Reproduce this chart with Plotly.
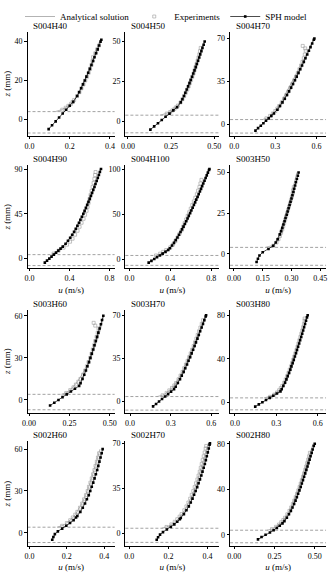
import plotly.graph_objects as go

FONT = "Liberation Serif"

# ---------------- data (u in m/s, z in mm) ----------------
panel_names = ["S004H40", "S004H50", "S004H70", "S004H90", "S004H100", "S003H50",
               "S003H60", "S003H70", "S003H80", "S002H60", "S002H70", "S002H80"]

# S004H40
s004h40_sph_z = [-5, -3, -1, 1, 3, 5, 7, 9, 12, 14, 16, 18, 20, 22, 24, 26, 28, 30, 32, 34, 36, 38, 40, 41]
s004h40_sph_u = [0.095, 0.112, 0.130, 0.147, 0.165, 0.182, 0.200, 0.217, 0.237, 0.247, 0.257, 0.266, 0.275, 0.283,
                 0.292, 0.300, 0.308, 0.316, 0.323, 0.331, 0.339, 0.346, 0.353, 0.357]
s004h40_ana_z = [4, 4.5, 5, 6, 7, 8, 10, 12, 15, 20, 25, 30, 35, 40]
s004h40_ana_u = [0.128, 0.148, 0.160, 0.178, 0.192, 0.204, 0.222, 0.236, 0.253, 0.276, 0.295, 0.312, 0.328, 0.348]
s004h40_exp_z = [5, 6, 7, 8, 9, 10, 12, 14, 16, 18, 20, 22, 24, 26, 28, 30, 32, 34, 36, 38]
s004h40_exp_u = [0.163, 0.180, 0.193, 0.206, 0.214, 0.222, 0.236, 0.248, 0.258, 0.268, 0.277, 0.286, 0.294, 0.301,
                 0.308, 0.313, 0.316, 0.327, 0.336, 0.345]

# S004H50
s004h50_sph_z = [-5, -3, -1, 1, 3, 5, 7, 9, 12, 14, 16, 18, 20, 22, 24, 26, 28, 30, 32, 34, 36, 38, 40, 42, 44, 46, 48, 50]
s004h50_sph_u = [0.130, 0.152, 0.174, 0.196, 0.218, 0.241, 0.263, 0.285, 0.306, 0.316, 0.325, 0.333, 0.341, 0.349,
                 0.357, 0.364, 0.372, 0.379, 0.386, 0.393, 0.399, 0.406, 0.413, 0.419, 0.426, 0.432, 0.439, 0.445]
s004h50_ana_z = [4, 4.5, 5, 6, 7, 8, 10, 12, 15, 20, 25, 30, 35, 40, 45, 50]
s004h50_ana_u = [0.185, 0.205, 0.220, 0.240, 0.256, 0.268, 0.288, 0.303, 0.320, 0.343, 0.362, 0.380, 0.398, 0.413,
                 0.428, 0.443]
s004h50_exp_z = [5, 6, 7, 8, 9, 10, 12, 14, 16, 18, 20, 22, 24, 26, 28, 30, 32, 34, 36, 38, 40, 42, 44, 46]
s004h50_exp_u = [0.225, 0.245, 0.258, 0.270, 0.280, 0.290, 0.305, 0.316, 0.326, 0.335, 0.344, 0.352, 0.359, 0.366,
                 0.373, 0.380, 0.386, 0.392, 0.398, 0.404, 0.409, 0.414, 0.418, 0.422]

# S004H70
s004h70_sph_z = [-5, -3, -1, 1, 3, 5, 7, 9, 12, 15, 18, 21, 24, 27, 30, 33, 36, 39, 42, 45, 48, 51, 54, 57, 60,
                 63, 66, 69, 70]
s004h70_sph_u = [0.155, 0.174, 0.194, 0.213, 0.232, 0.252, 0.271, 0.290, 0.315, 0.334, 0.352, 0.369, 0.385, 0.400,
                 0.415, 0.429, 0.443, 0.456, 0.469, 0.482, 0.495, 0.508, 0.520, 0.533, 0.545, 0.557, 0.569, 0.581,
                 0.585]
s004h70_ana_z = [4, 4.5, 5, 6, 7, 8, 10, 12, 15, 20, 30, 40, 50, 60, 70]
s004h70_ana_u = [0.205, 0.222, 0.234, 0.250, 0.263, 0.273, 0.290, 0.305, 0.325, 0.350, 0.400, 0.450, 0.495, 0.540,
                 0.580]
s004h70_exp_z = [5, 7, 9, 11, 13, 15, 18, 21, 24, 27, 30, 33, 36, 39, 42, 45, 48, 51, 54, 57, 60, 62, 64]
s004h70_exp_u = [0.235, 0.262, 0.282, 0.300, 0.315, 0.328, 0.347, 0.364, 0.380, 0.396, 0.410, 0.424, 0.438, 0.451,
                 0.464, 0.476, 0.488, 0.498, 0.508, 0.515, 0.522, 0.518, 0.500]

# S004H90
s004h90_sph_z = [-4, -2, 0, 2, 4, 6, 8, 10, 12, 15, 18, 21, 24, 27, 30, 33, 36, 39, 42, 45, 48, 51, 54, 57, 60,
                 63, 66, 69, 72, 75, 78, 81, 84, 87, 90]
s004h90_sph_u = [0.153, 0.175, 0.198, 0.220, 0.243, 0.265, 0.288, 0.310, 0.332, 0.360, 0.384, 0.406, 0.426, 0.445,
                 0.462, 0.478, 0.494, 0.508, 0.523, 0.537, 0.550, 0.563, 0.576, 0.589, 0.601, 0.613, 0.625, 0.637,
                 0.649, 0.659, 0.671, 0.682, 0.693, 0.703, 0.714]
s004h90_ana_z = [4, 5, 6, 8, 10, 13, 16, 20, 25, 30, 40, 50, 60, 70, 80, 90]
s004h90_ana_u = [0.220, 0.250, 0.270, 0.300, 0.325, 0.350, 0.380, 0.410, 0.445, 0.475, 0.525, 0.568, 0.605, 0.640,
                 0.675, 0.705]
s004h90_exp_z = [5, 8, 11, 14, 17, 20, 24, 28, 32, 36, 40, 44, 48, 52, 56, 60, 64, 68, 72, 76, 80, 84, 87]
s004h90_exp_u = [0.240, 0.290, 0.340, 0.375, 0.405, 0.430, 0.455, 0.480, 0.500, 0.520, 0.540, 0.555, 0.570, 0.580,
                 0.590, 0.600, 0.610, 0.620, 0.630, 0.640, 0.648, 0.655, 0.660]

# S004H100
s004h100_sph_z = [-4, -2, 0, 2, 4, 6, 8, 10, 12, 15, 18, 21, 24, 27, 30, 33, 36, 39, 42, 45, 48, 51, 54, 57, 60,
                  63, 66, 69, 72, 75, 78, 81, 84, 87, 90, 93, 96, 99, 100]
s004h100_sph_u = [0.188, 0.215, 0.243, 0.270, 0.298, 0.325, 0.353, 0.380, 0.396, 0.417, 0.436, 0.453, 0.470, 0.485,
                  0.500, 0.515, 0.529, 0.542, 0.556, 0.569, 0.581, 0.594, 0.606, 0.619, 0.631, 0.643, 0.654, 0.667,
                  0.678, 0.690, 0.701, 0.712, 0.723, 0.735, 0.746, 0.757, 0.768, 0.779, 0.783]
s004h100_ana_z = [4, 5, 6, 8, 10, 13, 16, 20, 25, 30, 40, 50, 60, 70, 80, 90, 100]
s004h100_ana_u = [0.260, 0.290, 0.310, 0.340, 0.365, 0.395, 0.420, 0.445, 0.470, 0.495, 0.540, 0.585, 0.625, 0.665,
                  0.705, 0.740, 0.775]
s004h100_exp_z = [4, 6, 8, 10, 13, 16, 20, 24, 28, 32, 36, 40, 44, 48, 52, 56, 60, 64, 68, 72, 76, 80, 84, 88]
s004h100_exp_u = [0.260, 0.300, 0.330, 0.360, 0.400, 0.425, 0.450, 0.470, 0.490, 0.510, 0.525, 0.540, 0.555, 0.570,
                  0.585, 0.600, 0.615, 0.630, 0.645, 0.660, 0.672, 0.685, 0.695, 0.705]

# S003H50
s003h50_sph_z = [-5, -3, -1, 1, 3, 5, 7, 9, 12, 14, 16, 18, 20, 22, 24, 26, 28, 30, 32, 34, 36, 38, 40, 42, 44, 46, 48, 50]
s003h50_sph_u = [0.118, 0.125, 0.133, 0.150, 0.180, 0.205, 0.218, 0.228, 0.239, 0.246, 0.252, 0.258, 0.264, 0.269,
                 0.275, 0.280, 0.285, 0.290, 0.295, 0.300, 0.305, 0.310, 0.314, 0.319, 0.323, 0.328, 0.333, 0.337]
s003h50_ana_z = [4, 4.5, 5, 6, 8, 10, 13, 16, 20, 25, 30, 35, 40, 45, 50]
s003h50_ana_u = [0.165, 0.185, 0.197, 0.212, 0.228, 0.238, 0.249, 0.257, 0.266, 0.277, 0.288, 0.298, 0.308, 0.318,
                 0.328]
s003h50_exp_z = [5, 7, 9, 11, 13, 15, 17, 19, 21, 23, 25, 27, 29, 31, 33, 35, 37, 39, 41]
s003h50_exp_u = [0.205, 0.222, 0.232, 0.240, 0.246, 0.252, 0.257, 0.262, 0.267, 0.272, 0.277, 0.282, 0.287, 0.292,
                 0.297, 0.302, 0.306, 0.308, 0.312]

# S003H60
s003h60_sph_z = [-4, -2, 0, 2, 4, 6, 8, 10, 12, 15, 18, 21, 24, 27, 30, 33, 36, 39, 42, 45, 48, 51, 54, 57, 60]
s003h60_sph_u = [0.130, 0.156, 0.182, 0.207, 0.233, 0.259, 0.284, 0.310, 0.319, 0.331, 0.342, 0.352, 0.361, 0.371,
                 0.380, 0.388, 0.397, 0.405, 0.413, 0.421, 0.429, 0.437, 0.445, 0.452, 0.460]
s003h60_ana_z = [4, 4.5, 5, 6, 8, 10, 13, 16, 20, 25, 30, 35, 40, 45, 50, 55, 60]
s003h60_ana_u = [0.200, 0.215, 0.226, 0.242, 0.263, 0.278, 0.300, 0.318, 0.338, 0.360, 0.380, 0.397, 0.413, 0.428,
                 0.442, 0.452, 0.462]
s003h60_exp_z = [5, 7, 9, 11, 13, 15, 18, 21, 24, 27, 30, 33, 36, 39, 42, 45, 48, 51, 53, 55]
s003h60_exp_u = [0.230, 0.255, 0.275, 0.290, 0.305, 0.318, 0.334, 0.347, 0.358, 0.368, 0.378, 0.387, 0.395, 0.403,
                 0.410, 0.418, 0.425, 0.430, 0.410, 0.400]

# S003H70
s003h70_sph_z = [-4, -2, 0, 2, 4, 6, 8, 10, 12, 15, 18, 21, 24, 27, 30, 33, 36, 39, 42, 45, 48, 51, 54, 57, 60,
                 63, 66, 69, 70]
s003h70_sph_u = [0.170, 0.192, 0.214, 0.236, 0.259, 0.281, 0.303, 0.325, 0.337, 0.353, 0.369, 0.382, 0.396, 0.408,
                 0.421, 0.432, 0.444, 0.455, 0.466, 0.477, 0.487, 0.498, 0.508, 0.518, 0.529, 0.539, 0.549, 0.559,
                 0.562]
s003h70_ana_z = [4, 4.5, 5, 6, 8, 10, 13, 16, 20, 25, 30, 40, 50, 60, 70]
s003h70_ana_u = [0.200, 0.225, 0.238, 0.256, 0.282, 0.300, 0.325, 0.345, 0.365, 0.390, 0.410, 0.450, 0.490, 0.525,
                 0.560]
s003h70_exp_z = [5, 7, 9, 11, 13, 15, 18, 21, 24, 27, 30, 33, 36, 39, 42, 45, 48, 51, 54, 57, 60, 63, 66]
s003h70_exp_u = [0.240, 0.270, 0.290, 0.310, 0.327, 0.340, 0.358, 0.373, 0.388, 0.400, 0.413, 0.425, 0.437, 0.448,
                 0.459, 0.470, 0.480, 0.490, 0.500, 0.510, 0.520, 0.530, 0.540]

# S003H80
s003h80_sph_z = [-4, -2, 0, 2, 4, 6, 8, 10, 12, 15, 18, 21, 24, 27, 30, 33, 36, 39, 42, 45, 48, 51, 54, 57, 60,
                 63, 66, 69, 72, 75, 78, 80]
s003h80_sph_u = [0.147, 0.173, 0.199, 0.225, 0.252, 0.278, 0.304, 0.330, 0.339, 0.351, 0.363, 0.373, 0.382, 0.392,
                 0.401, 0.409, 0.418, 0.426, 0.434, 0.442, 0.449, 0.457, 0.465, 0.472, 0.480, 0.487, 0.494, 0.501,
                 0.508, 0.515, 0.522, 0.527]
s003h80_ana_z = [4, 4.5, 5, 6, 8, 10, 13, 16, 20, 25, 30, 40, 50, 60, 70, 80]
s003h80_ana_u = [0.210, 0.230, 0.243, 0.262, 0.290, 0.310, 0.335, 0.353, 0.370, 0.385, 0.400, 0.427, 0.452, 0.478,
                 0.503, 0.525]
s003h80_exp_z = [5, 7, 9, 11, 13, 15, 18, 21, 24, 27, 30, 33, 36, 39, 42, 45, 48, 51, 54, 57, 60, 63, 66, 69, 72,
                 75, 77]
s003h80_exp_u = [0.255, 0.285, 0.305, 0.320, 0.332, 0.343, 0.357, 0.368, 0.378, 0.388, 0.397, 0.406, 0.414, 0.422,
                 0.430, 0.438, 0.446, 0.453, 0.460, 0.467, 0.474, 0.481, 0.488, 0.494, 0.500, 0.505, 0.505]

# S002H60
s002h60_sph_z = [-5, -3, -1, 1, 3, 5, 7, 9, 11, 12, 15, 18, 21, 24, 27, 30, 33, 36, 39, 42, 45, 48, 51, 54, 57, 60]
s002h60_sph_u = [0.122, 0.128, 0.136, 0.152, 0.175, 0.197, 0.217, 0.236, 0.249, 0.256, 0.272, 0.285, 0.297, 0.307,
                 0.317, 0.325, 0.333, 0.341, 0.348, 0.355, 0.362, 0.368, 0.374, 0.380, 0.386, 0.391]
s002h60_ana_z = [4, 4.5, 5, 6, 8, 10, 13, 16, 20, 25, 30, 35, 40, 45, 50, 55, 60]
s002h60_ana_u = [0.148, 0.163, 0.172, 0.188, 0.210, 0.226, 0.245, 0.260, 0.276, 0.294, 0.309, 0.322, 0.334, 0.345,
                 0.356, 0.367, 0.377]
s002h60_exp_z = [5, 7, 9, 11, 13, 15, 18, 21, 24, 27, 30, 33, 36, 39, 42, 45, 48, 51, 54, 57]
s002h60_exp_u = [0.175, 0.200, 0.218, 0.232, 0.245, 0.256, 0.270, 0.282, 0.292, 0.302, 0.311, 0.318, 0.326, 0.333,
                 0.340, 0.347, 0.353, 0.360, 0.366, 0.372]

# S002H70
s002h70_sph_z = [-5, -3, -1, 1, 3, 5, 7, 9, 11, 12, 15, 18, 21, 24, 27, 30, 33, 36, 39, 42, 45, 48, 51, 54, 57,
                 60, 63, 66, 69, 70]
s002h70_sph_u = [0.140, 0.147, 0.157, 0.172, 0.192, 0.212, 0.230, 0.245, 0.258, 0.263, 0.279, 0.292, 0.304, 0.314,
                 0.323, 0.331, 0.339, 0.347, 0.354, 0.361, 0.368, 0.374, 0.380, 0.386, 0.391, 0.396, 0.401, 0.406,
                 0.410, 0.412]
s002h70_ana_z = [4, 4.5, 5, 6, 8, 10, 13, 16, 20, 25, 30, 40, 50, 60, 70]
s002h70_ana_u = [0.165, 0.180, 0.190, 0.205, 0.226, 0.242, 0.260, 0.275, 0.290, 0.307, 0.322, 0.346, 0.366, 0.385,
                 0.403]
s002h70_exp_z = [5, 7, 9, 11, 13, 15, 18, 21, 24, 27, 30, 33, 36, 39, 42, 45, 48, 51, 54, 57, 60, 63, 66, 68]
s002h70_exp_u = [0.190, 0.215, 0.232, 0.245, 0.257, 0.267, 0.281, 0.292, 0.302, 0.311, 0.319, 0.327, 0.334, 0.341,
                 0.348, 0.354, 0.360, 0.365, 0.370, 0.375, 0.380, 0.385, 0.390, 0.393]

# S002H80
s002h80_sph_z = [-4, -2, 0, 2, 4, 6, 8, 10, 12, 15, 18, 21, 24, 27, 30, 33, 36, 39, 42, 45, 48, 51, 54, 57, 60,
                 63, 66, 69, 72, 75, 78, 80]
s002h80_sph_u = [0.148, 0.170, 0.195, 0.222, 0.245, 0.265, 0.283, 0.300, 0.312, 0.327, 0.340, 0.352, 0.362, 0.372,
                 0.381, 0.389, 0.397, 0.405, 0.413, 0.420, 0.427, 0.434, 0.441, 0.448, 0.455, 0.461, 0.468, 0.474,
                 0.481, 0.487, 0.494, 0.500]
s002h80_ana_z = [4, 4.5, 5, 6, 8, 10, 13, 16, 20, 25, 30, 40, 50, 60, 70, 80]
s002h80_ana_u = [0.205, 0.222, 0.232, 0.248, 0.270, 0.286, 0.306, 0.322, 0.338, 0.355, 0.370, 0.397, 0.420, 0.443,
                 0.466, 0.490]
s002h80_exp_z = [5, 7, 9, 11, 13, 15, 18, 21, 24, 27, 30, 33, 36, 39, 42, 45, 48, 51, 54, 57, 60, 63, 66, 69, 72]
s002h80_exp_u = [0.235, 0.260, 0.278, 0.292, 0.305, 0.316, 0.330, 0.343, 0.354, 0.364, 0.373, 0.382, 0.390, 0.398,
                 0.406, 0.413, 0.420, 0.427, 0.434, 0.441, 0.447, 0.453, 0.459, 0.465, 0.470]

# horizontal reference levels (mm)
ref_levels = [4, -7]

# tick values / labels
x_tickvals = [[0, 0.2, 0.4], [0, 0.25, 0.5], [0, 0.3, 0.6], [0, 0.4, 0.8], [0, 0.4, 0.8], [0, 0.15, 0.30, 0.45],
              [0, 0.25, 0.5], [0, 0.3, 0.6], [0, 0.3, 0.6], [0, 0.2, 0.4], [0, 0.2, 0.4], [0, 0.25, 0.5]]
x_ticktext = [["0.0", "0.2", "0.4"], ["0.00", "0.25", "0.50"], ["0.0", "0.3", "0.6"], ["0.0", "0.4", "0.8"],
              ["0.0", "0.4", "0.8"], ["0.00", "0.15", "0.30", "0.45"], ["0.00", "0.25", "0.50"],
              ["0.0", "0.3", "0.6"], ["0.0", "0.3", "0.6"], ["0.0", "0.2", "0.4"], ["0.0", "0.2", "0.4"],
              ["0.00", "0.25", "0.50"]]
y_tickvals = [[0, 20, 40], [0, 25, 50], [0, 35, 70], [0, 45, 90], [0, 50, 100], [0, 25, 50],
              [0, 30, 60], [0, 35, 70], [0, 40, 80], [0, 30, 60], [0, 35, 70], [0, 40, 80]]
x_ranges = [[-0.01, 0.423], [-0.015, 0.53], [-0.03, 0.67], [-0.02, 0.85], [-0.04, 0.88], [-0.02, 0.48],
            [-0.01, 0.53], [-0.035, 0.66], [-0.035, 0.66], [-0.01, 0.455], [-0.02, 0.46], [-0.025, 0.57]]
y_ranges = [[-8.3, 45], [-8.7, 56], [-9, 75.4], [-9.5, 93.6], [-10, 104], [-8.7, 54.3],
            [-9, 64.2], [-9, 74.3], [-9.5, 84.9], [-9.2, 65.5], [-9.5, 71.5], [-9.5, 82]]

sph = [(s004h40_sph_u, s004h40_sph_z), (s004h50_sph_u, s004h50_sph_z), (s004h70_sph_u, s004h70_sph_z),
       (s004h90_sph_u, s004h90_sph_z), (s004h100_sph_u, s004h100_sph_z), (s003h50_sph_u, s003h50_sph_z),
       (s003h60_sph_u, s003h60_sph_z), (s003h70_sph_u, s003h70_sph_z), (s003h80_sph_u, s003h80_sph_z),
       (s002h60_sph_u, s002h60_sph_z), (s002h70_sph_u, s002h70_sph_z), (s002h80_sph_u, s002h80_sph_z)]
ana = [(s004h40_ana_u, s004h40_ana_z), (s004h50_ana_u, s004h50_ana_z), (s004h70_ana_u, s004h70_ana_z),
       (s004h90_ana_u, s004h90_ana_z), (s004h100_ana_u, s004h100_ana_z), (s003h50_ana_u, s003h50_ana_z),
       (s003h60_ana_u, s003h60_ana_z), (s003h70_ana_u, s003h70_ana_z), (s003h80_ana_u, s003h80_ana_z),
       (s002h60_ana_u, s002h60_ana_z), (s002h70_ana_u, s002h70_ana_z), (s002h80_ana_u, s002h80_ana_z)]
exp = [(s004h40_exp_u, s004h40_exp_z), (s004h50_exp_u, s004h50_exp_z), (s004h70_exp_u, s004h70_exp_z),
       (s004h90_exp_u, s004h90_exp_z), (s004h100_exp_u, s004h100_exp_z), (s003h50_exp_u, s003h50_exp_z),
       (s003h60_exp_u, s003h60_exp_z), (s003h70_exp_u, s003h70_exp_z), (s003h80_exp_u, s003h80_exp_z),
       (s002h60_exp_u, s002h60_exp_z), (s002h70_exp_u, s002h70_exp_z), (s002h80_exp_u, s002h80_exp_z)]

# ---------------- layout geometry (pixels) ----------------
W, H = 329, 573
col_px = [(23, 112), (123, 219), (230, 328)]
row_px = [(30, 134), (164, 267), (309, 412), (441, 545.5)]

GRAY_LINE = "#a0a0a0"
GRAY_MARK = "#9a9a9a"
DASH = "#8a8a8a"

fig = go.Figure()
layout = dict(
    width=W, height=H, margin=dict(l=0, r=0, t=0, b=0),
    paper_bgcolor="white", plot_bgcolor="white",
    font=dict(family=FONT, size=9, color="black"),
    showlegend=True,
    legend=dict(orientation="h", x=0.5, xanchor="center", y=1.0, yanchor="top",
                font=dict(family=FONT, size=9, color="black"), itemwidth=30,
                bgcolor="rgba(0,0,0,0)", tracegroupgap=0),
)
shapes = []
annotations = []

for i, name in enumerate(panel_names):
    r, c = divmod(i, 3)
    n = i + 1
    xs = "" if n == 1 else str(n)
    x0, x1 = col_px[c]
    y0, y1 = row_px[r]
    xdom = [x0 / W, x1 / W]
    ydom = [1 - y1 / H, 1 - y0 / H]
    axis_common = dict(showline=True, linecolor="black", linewidth=0.8, ticks="outside", ticklen=2.5,
                       tickwidth=0.8, tickcolor="black", showgrid=False, zeroline=False,
                       tickfont=dict(family=FONT, size=8, color="black"))
    xa = dict(axis_common, domain=xdom, anchor="y" + xs, range=x_ranges[i],
              tickmode="array", tickvals=x_tickvals[i], ticktext=x_ticktext[i])
    if r in (1, 3):
        xa["title"] = dict(text="<i>u</i> (m/s)", font=dict(family=FONT, size=9), standoff=4)
    ya = dict(axis_common, domain=ydom, anchor="x" + xs, range=y_ranges[i],
              tickmode="array", tickvals=y_tickvals[i], ticktext=[str(v) for v in y_tickvals[i]])
    if c == 0:
        ya["title"] = dict(text="<i>z</i> (mm)", font=dict(family=FONT, size=9), standoff=2)
    layout["xaxis" + xs] = xa
    layout["yaxis" + xs] = ya

    for lv in ref_levels:
        shapes.append(dict(type="line", xref="x" + xs + " domain", yref="y" + xs, x0=0, x1=1, y0=lv, y1=lv,
                           line=dict(color=DASH, width=0.8, dash="3px,2px"), layer="below"))

    annotations.append(dict(text=name, xref="x" + xs + " domain", yref="y" + xs + " domain", x=0.04, y=1.0,
                            xanchor="left", yanchor="bottom", yshift=-1, showarrow=False,
                            font=dict(family=FONT, size=9, color="black")))

    first = (i == 0)
    fig.add_trace(go.Scatter(x=ana[i][0], y=ana[i][1], mode="lines", name="Analytical solution",
                             line=dict(color=GRAY_LINE, width=0.8), xaxis="x" + xs, yaxis="y" + xs,
                             showlegend=first, legendrank=1))
    fig.add_trace(go.Scatter(x=exp[i][0], y=exp[i][1], mode="markers", name="Experiments",
                             marker=dict(symbol="square-open", size=3, color=GRAY_MARK, line=dict(width=0.6)),
                             xaxis="x" + xs, yaxis="y" + xs, showlegend=first, legendrank=2))
    fig.add_trace(go.Scatter(x=sph[i][0], y=sph[i][1], mode="lines+markers", name="SPH model",
                             line=dict(color="black", width=0.7),
                             marker=dict(symbol="square", size=2.6, color="black"),
                             xaxis="x" + xs, yaxis="y" + xs, showlegend=first, legendrank=3))

layout["shapes"] = shapes
layout["annotations"] = annotations
fig.update_layout(**layout)
fig.write_html("out.html")
